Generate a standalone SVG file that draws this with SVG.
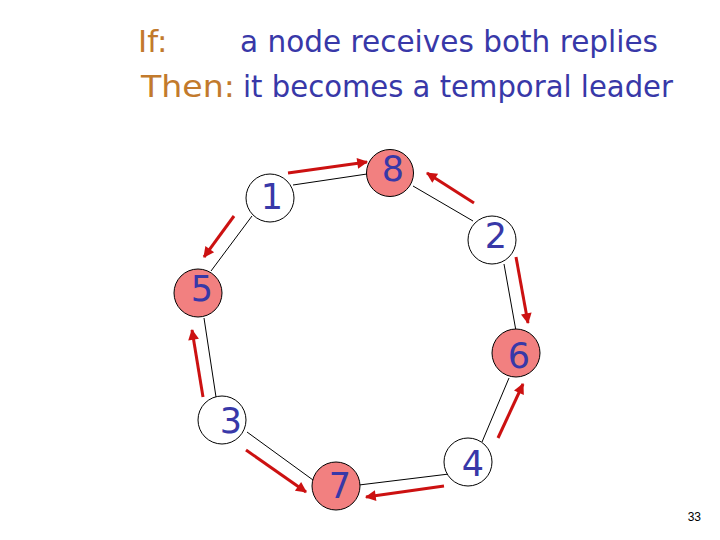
<svg xmlns="http://www.w3.org/2000/svg" width="720" height="540" viewBox="0 0 720 540">
<defs>
<style>
.hdr{font-family:"Comic Sans MS","DejaVu Sans",sans-serif;font-size:31px}
.lbl{fill:#c27a2c}
.txt{fill:#3838a8}
.num{font-family:"Comic Sans MS","DejaVu Sans",sans-serif;font-size:35px;fill:#3838a8;text-anchor:middle}
.node{stroke:#000;stroke-width:1}
.white{fill:#fff}
.pink{fill:#f28080}
.edge{stroke:#000;stroke-width:1;fill:none}
.msg{stroke:#cc1111;stroke-width:3;fill:none;marker-end:url(#ah)}
</style>
<marker id="ah" viewBox="0 0 10 10" refX="9" refY="5" markerWidth="4.6" markerHeight="3.6" orient="auto" markerUnits="strokeWidth">
<path d="M0,0 L10,5 L0,10 z" fill="#cc1111"/>
</marker>
</defs>
<rect width="720" height="540" fill="#fff"/>
<text class="hdr lbl" x="138" y="52">If:</text>
<text class="hdr txt" x="240" y="52" textLength="418" lengthAdjust="spacingAndGlyphs">a node receives both replies</text>
<text class="hdr lbl" x="141" y="97" textLength="94" lengthAdjust="spacingAndGlyphs">Then:</text>
<text class="hdr txt" x="243" y="97" textLength="430" lengthAdjust="spacingAndGlyphs">it becomes a temporal leader</text>
<g id="connectors">
<line class="edge" x1="293" y1="185" x2="367" y2="174"/>
<line class="edge" x1="413" y1="186" x2="473" y2="221"/>
<line class="edge" x1="504" y1="264" x2="516" y2="331"/>
<line class="edge" x1="509" y1="378" x2="482" y2="442"/>
<line class="edge" x1="449" y1="474" x2="359" y2="485"/>
<line class="edge" x1="313" y1="480" x2="247" y2="432"/>
<line class="edge" x1="216" y1="397" x2="204" y2="318"/>
<line class="edge" x1="211" y1="271" x2="252" y2="216"/>
<line class="msg" x1="288" y1="173" x2="367" y2="162"/>
<line class="msg" x1="234" y1="216" x2="204" y2="257"/>
<line class="msg" x1="474" y1="203" x2="427" y2="173"/>
<line class="msg" x1="516" y1="257" x2="528" y2="323"/>
<line class="msg" x1="203" y1="397" x2="192" y2="330"/>
<line class="msg" x1="246" y1="450" x2="306" y2="492"/>
<line class="msg" x1="444" y1="486" x2="366" y2="497"/>
<line class="msg" x1="498" y1="438" x2="523" y2="384"/>
</g>
<g id="node1"><circle class="node white" cx="270" cy="198" r="24"/><text class="num" x="272" y="209">1</text></g>
<g id="node8"><circle class="node pink" cx="390" cy="173" r="23.5"/><text class="num" x="393" y="181">8</text></g>
<g id="node2"><circle class="node white" cx="492" cy="240" r="24"/><text class="num" x="496" y="248">2</text></g>
<g id="node5"><circle class="node pink" cx="198" cy="293" r="24"/><text class="num" x="202" y="301">5</text></g>
<g id="node6"><circle class="node pink" cx="516" cy="353" r="24"/><text class="num" x="519" y="368">6</text></g>
<g id="node3"><circle class="node white" cx="222" cy="420" r="24"/><text class="num" x="231" y="433">3</text></g>
<g id="node7"><circle class="node pink" cx="336" cy="486" r="24"/><text class="num" x="340" y="498">7</text></g>
<g id="node4"><circle class="node white" cx="468" cy="462" r="24"/><text class="num" x="473" y="476">4</text></g>
<text x="701" y="521" font-family="Liberation Sans, Arial, sans-serif" font-size="12" text-anchor="end" fill="#000">33</text>
</svg>
